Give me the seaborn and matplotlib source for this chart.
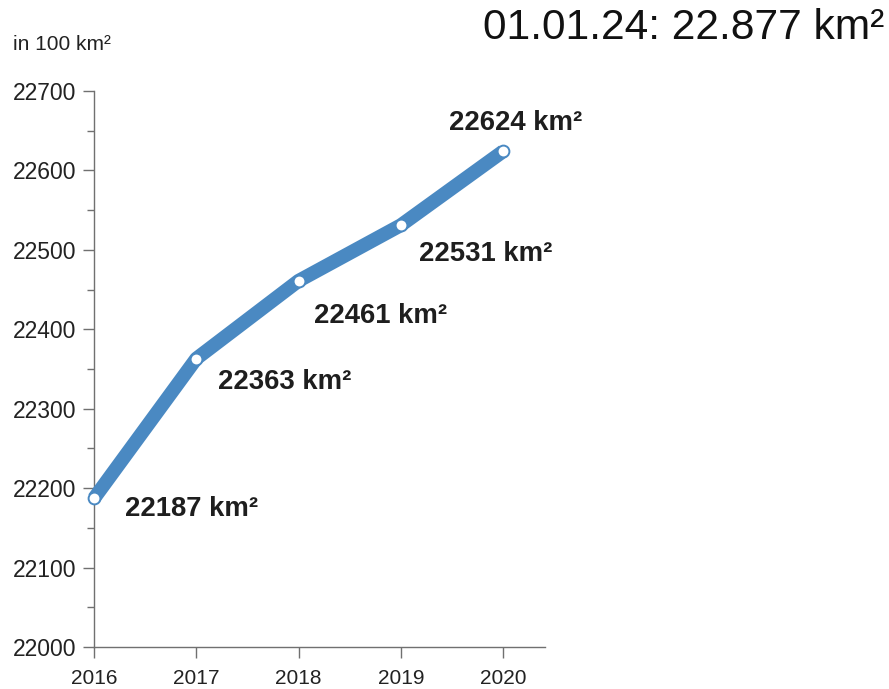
import matplotlib
matplotlib.use("Agg")
import matplotlib.pyplot as plt
import seaborn as sns
import pandas as pd
from matplotlib.ticker import MultipleLocator

years = [2016, 2017, 2018, 2019, 2020]
values = [22187, 22363, 22461, 22531, 22624]
labels = ["22187 km²", "22363 km²", "22461 km²", "22531 km²", "22624 km²"]
title = "01.01.24: 22.877 km²"
unit = "in 100 km²"

sns.set_theme(style="white")
plt.rcParams['font.family'] = ['Liberation Sans', 'DejaVu Sans']

W, H = 889, 689
fig = plt.figure(figsize=(W / 100, H / 100), dpi=100)
ax = fig.add_axes([94 / W, (H - 647) / H, (545 - 94) / W, (647 - 91) / H])

df = pd.DataFrame({"year": years, "value": values})
line_color = "#4a89c2"
sns.lineplot(data=df, x="year", y="value", ax=ax, color=line_color,
             linewidth=10, solid_capstyle="butt", solid_joinstyle="round",
             marker="o", markersize=8.5, markerfacecolor="white",
             markeredgecolor=line_color, markeredgewidth=1.4, clip_on=False, zorder=5)

ax.set_xlim(2016, 2020.41)
ax.set_ylim(22000, 22700)
ax.set_xticks(years)
ax.set_xticklabels([str(y) for y in years])
ax.yaxis.set_major_locator(MultipleLocator(100))
ax.yaxis.set_minor_locator(MultipleLocator(50))
ax.set_xlabel("")
ax.set_ylabel("")

for s in ["top", "right"]:
    ax.spines[s].set_visible(False)
for s in ["left", "bottom"]:
    ax.spines[s].set_color("#707070")
    ax.spines[s].set_linewidth(1.0)
    ax.spines[s].set_zorder(1)

ax.tick_params(axis="y", which="major", direction="out", length=8, width=1.0,
               color="#707070", labelsize=16.5, labelcolor="#222222", pad=5, left=True)
ax.tick_params(axis="y", which="minor", direction="out", length=5, width=1.0,
               color="#707070", left=True)
ax.tick_params(axis="x", which="major", direction="out", length=8, width=1.0,
               color="#707070", labelsize=15, labelcolor="#222222", pad=8, bottom=True)

# label offsets in pixels (dx to left edge, dy) – layout only
offsets = [(31, -11), (22, -23), (15, -35), (18, -29), (-54, 28)]
for x, y, lab, (dx, dy) in zip(years, values, labels, offsets):
    ax.annotate(lab, xy=(x, y), xytext=(dx * 0.72, dy * 0.72), textcoords="offset points",
                ha="left", va="center", fontsize=19.8, fontweight="bold", color="#1e1e1e")

fig.text(13 / W, 1 - 45 / H, unit, fontsize=15, color="#222222", ha="left", va="center")
fig.text(884 / W, 1 - 28 / H, title, fontsize=30.6, color="#111111", ha="right", va="center")

fig.savefig("out.png", dpi=100)
